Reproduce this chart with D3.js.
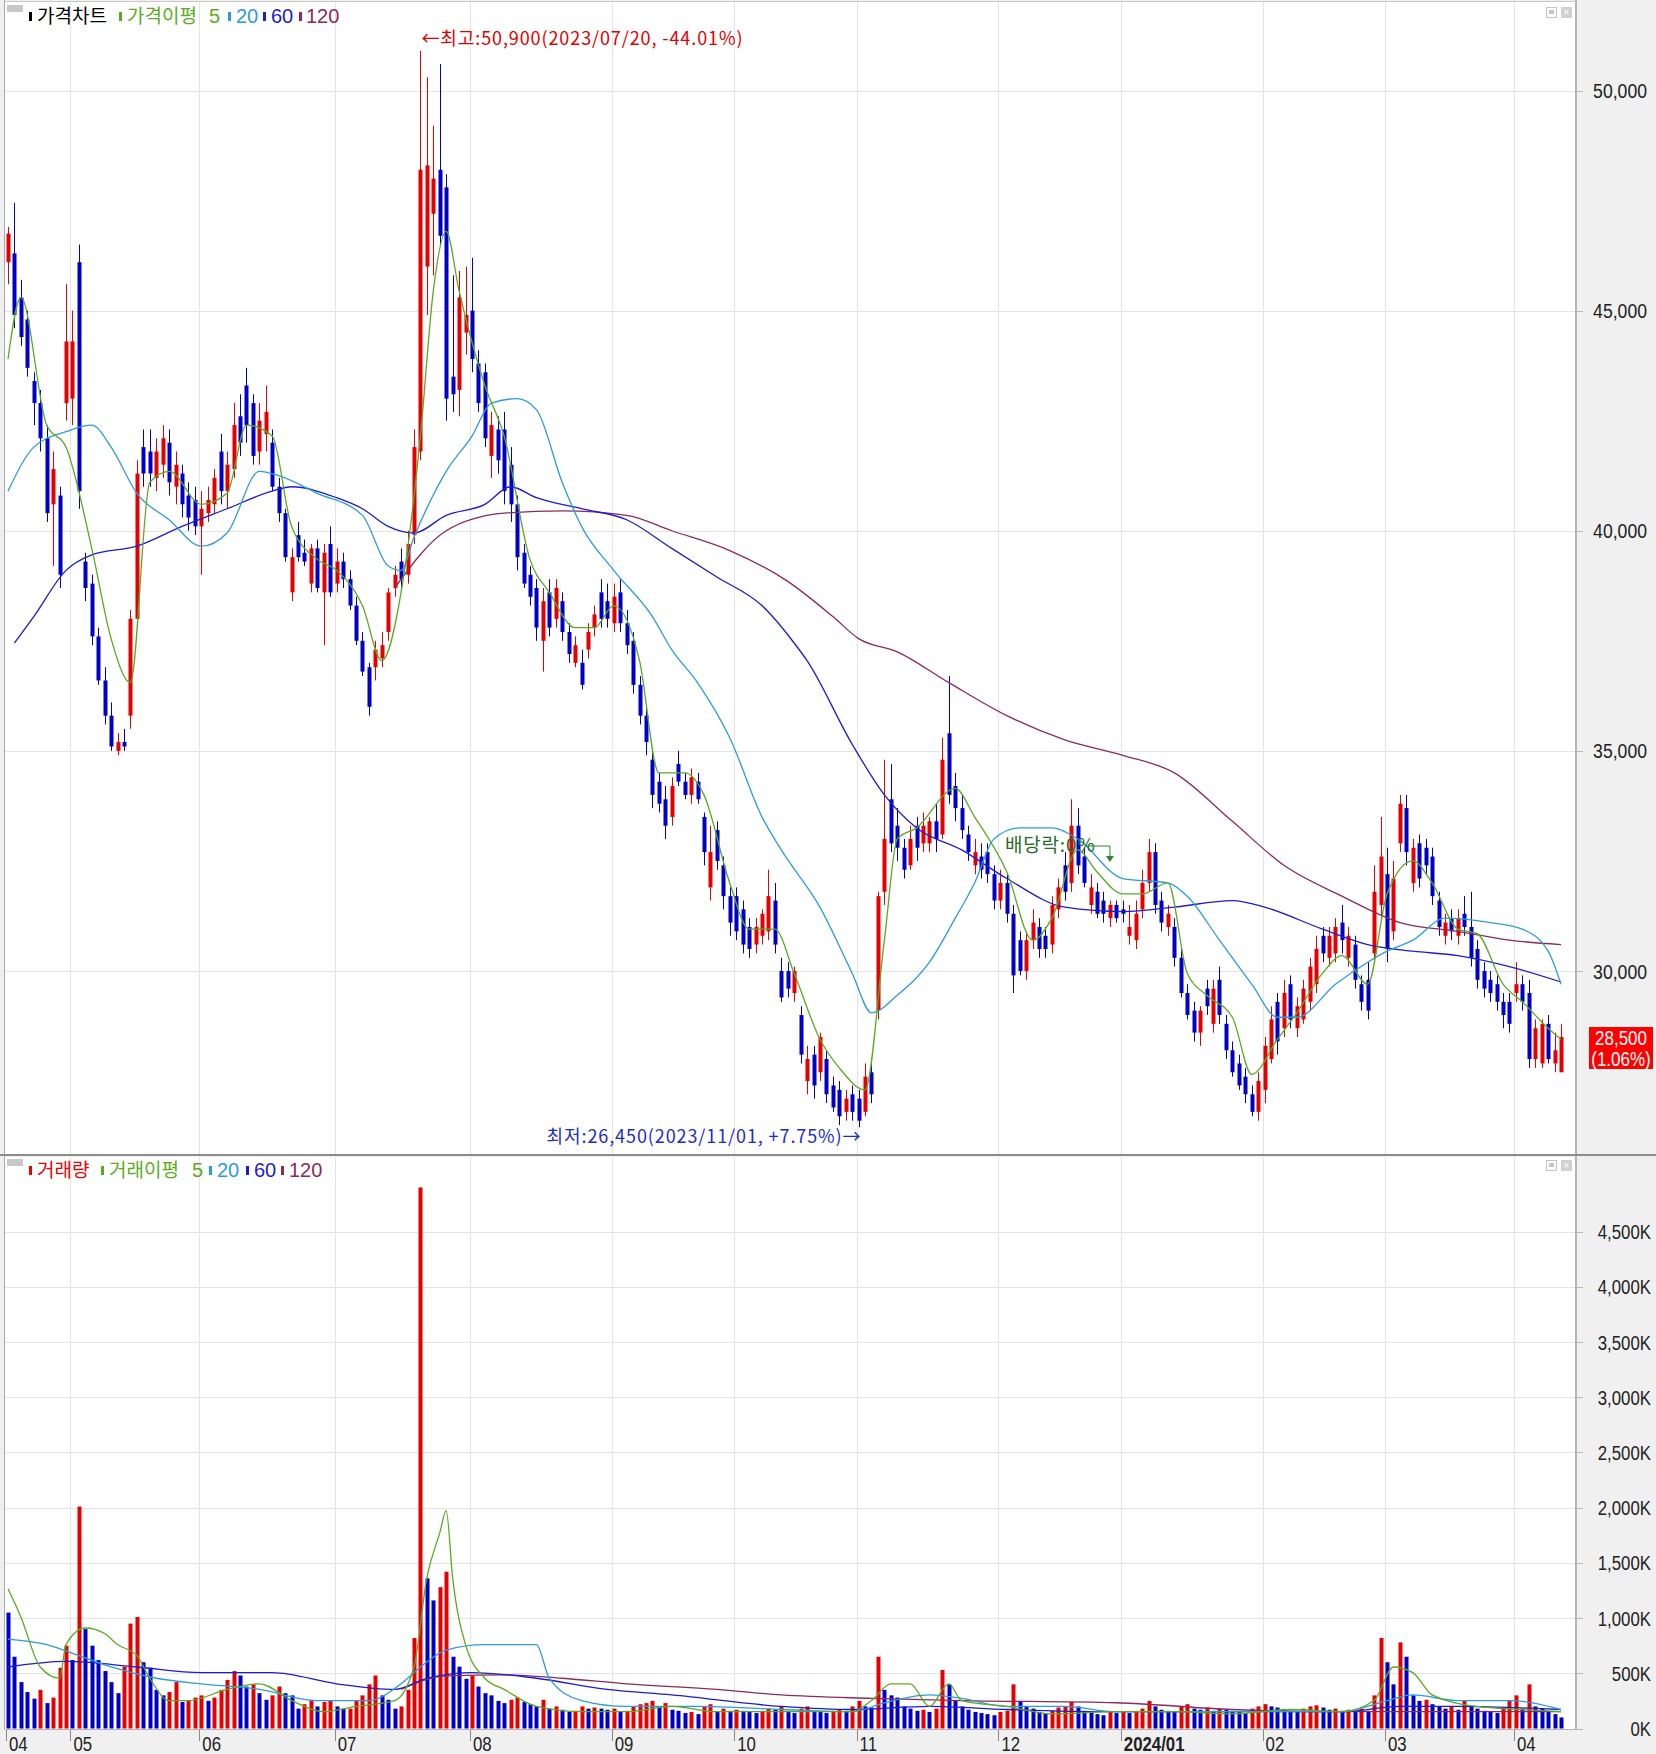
<!DOCTYPE html>
<html><head><meta charset="utf-8">
<script src="https://cdn.jsdelivr.net/npm/d3@7"></script>
<style>body{margin:0;background:#f0f0f0}svg{display:block}</style>
</head><body><svg id="c" width="1656" height="1754"></svg>
<script>
// ---------- DATA ----------
const monthLabels = ["04","05","06","07","08","09","10","11","12","2024/01","02","03","04"];
const monthStart  = [0,10,30,51,72,94,113,132,154,173,195,214,234];
const priceTicks  = [30000,35000,40000,45000,50000];
const volTicks    = [0,500,1000,1500,2000,2500,3000,3500,4000,4500];

// [open, high, low, close]
const apr23 = [[46100,46900,45600,46750],[46300,47450,44600,44900],[45300,45700,44200,44400],[44800,45000,43500,43700],[43400,43600,42400,42900],[42900,43200,41800,42100],[42100,42400,40200,40400],[40600,41800,39200,41400],[40800,41000,38700,39000],[42900,45600,42500,44300]];
const may23 = [[43000,45000,42400,44300],[46100,46500,40500,40900],[39300,39500,38400,38700],[38800,39000,37400,37600],[37600,37800,36500,36600],[36600,36900,35600,35800],[35800,36100,35000,35100],[35000,35400,34900,35200],[35200,35500,35000,35100],[35800,38200,35500,38000],[38000,41600,37800,41300],[41900,42300,41000,41300],[41800,42300,41000,41300],[41200,42100,40900,41800],[41500,42400,41200,42100],[42000,42300,40800,41100],[41000,41800,40600,41500],[41300,41500,40300,40600],[40800,41100,40000,40300],[40700,41000,39900,40100]];
const jun23 = [[40100,40900,39000,40500],[40400,41000,40200,40700],[40600,41400,40400,41200],[41800,42200,40600,40900],[40900,41800,40500,41500],[41400,42900,41200,42400],[42600,43100,41700,42000],[43300,43700,42000,42400],[42900,43100,41500,41700],[41800,42900,41500,42500],[42200,43300,41800,42700],[42000,42300,40900,41000],[41000,41200,40200,40400],[40400,40500,39300,39400],[38600,39600,38400,39400],[39900,40200,39300,39400],[39500,39800,39200,39300],[38800,39700,38600,39600],[39600,39800,38600,38700],[38600,39700,37400,39500],[39700,40100,38500,38600]];
const jul23 = [[38800,39600,38600,39300],[39300,39500,38700,38900],[38900,39100,38200,38300],[38300,38500,37400,37500],[37500,37700,36700,36800],[36900,37000,35800,36000],[36900,37500,36600,37300],[37100,37700,36900,37400],[37700,38700,37500,38600],[38700,39200,38500,39000],[39300,39600,38700,38900],[39000,40000,38800,39700],[39900,42300,39700,41900],[41800,50900,41600,48200],[46000,50300,44900,48300],[47200,49200,45800,48000],[48200,50600,46500,46700],[47800,48100,42500,43000],[43500,45800,42700,43100],[43200,45900,42600,45300],[44500,46000,44000,44900]];
const aug23 = [[45000,46200,43600,43900],[43800,44100,42700,42900],[43600,43800,41900,42100],[41700,42700,41200,42400],[42300,42600,41300,41600],[42300,42700,40600,40900],[41500,41900,40200,40600],[40600,40800,39100,39400],[39500,39700,38700,38800],[39000,39200,38300,38500],[38700,38900,37500,37800],[37500,38700,36800,38400],[38600,38900,37600,37800],[38000,38900,37800,38700],[38400,38600,37500,37700],[37700,37900,37000,37200],[37000,37600,36900,37400],[37000,37300,36400,36500],[37300,37900,37100,37700],[37800,38300,37600,38100],[38600,38900,37800,38000],[38400,38800,37800,38000]];
const sep23 = [[37900,38800,37700,38500],[38600,38900,37700,37900],[37900,38200,37200,37400],[37500,37700,36300,36500],[36500,36700,35600,35800],[35800,36000,34900,35200],[34800,35000,33700,34000],[34300,34500,33600,33800],[33900,34200,33000,33300],[33500,34400,33300,34200],[34700,35000,34200,34300],[34300,34500,33900,34000],[34000,34600,33800,34400],[34300,34500,33800,33900],[33500,33600,32400,32700],[31900,33300,31600,32700],[33200,33400,32300,32500],[32400,32600,31400,31700],[31700,31900,30800,31100]];
const oct23 = [[31700,31900,30700,30900],[31400,31600,30400,30600],[31000,31200,30300,30500],[30600,31200,30400,31000],[30800,31400,30600,31300],[30900,32300,30700,31700],[31600,32000,30400,30600],[30000,30300,29300,29400],[30000,30200,29400,29600],[29500,30100,29300,30000],[29000,29200,27900,28100],[27500,28300,27200,28000],[28100,28300,27100,27400],[27700,28600,27500,28500],[28000,28200,27000,27200],[27400,27600,26800,26900],[27300,27500,26500,26700],[26800,27300,26600,27100],[27200,27400,26600,26800]];
const nov23 = [[27100,27300,26450,26600],[26800,27900,26700,27600],[27700,27900,27000,27200],[29100,31800,28900,31700],[31800,34800,31500,33000],[33900,34700,32700,32900],[33300,33700,32500,32800],[32800,33000,32100,32300],[32400,33300,32300,33000],[33300,33500,32500,32800],[32900,33600,32700,33300],[32900,33500,32700,33400],[33400,33800,32700,33000],[33100,35300,33000,34800],[35400,36700,33800,34000],[34200,34500,33400,33700],[33700,34000,33000,33200],[33100,33300,32500,32700],[32400,33000,32200,32700],[32600,32900,32100,32300],[32700,32900,32000,32200],[32200,32400,31400,31600]];
const dec23 = [[31600,32300,31400,32000],[32000,32200,31100,31300],[31300,31500,29500,29900],[30700,30900,29900,30000],[30000,30900,29800,30700],[30700,31400,30500,31100],[31000,31200,30300,30500],[30800,31000,30300,30500],[30600,31700,30400,31500],[31400,32100,31200,31900],[32400,32700,31600,31800],[32000,33900,31800,33300],[33300,33700,32200,32400],[32600,32800,31900,32000],[31500,32200,31300,31900],[31800,32000,31200,31300],[31600,31800,31100,31300],[31200,31600,31000,31500],[31500,31600,31100,31200]];
const jan24 = [[31400,31600,31100,31300],[30800,31500,30600,31000],[30700,31600,30500,31300],[31400,32300,31200,32000],[32000,33000,31800,32700],[32700,32900,31300,31500],[31600,31800,30900,31100],[31000,31500,30800,31300],[31000,31200,30100,30300],[30300,30500,29400,29500],[29500,29700,28900,29000],[29100,29300,28400,28600],[28600,29200,28300,29100],[29600,29800,29000,29200],[28800,29800,28600,29600],[29800,30100,28800,29000],[28800,29000,28000,28200],[28200,28400,27600,27700],[27900,28100,27300,27400],[27600,27800,27000,27200],[27200,27400,26700,26800],[26800,27700,26600,27500]];
const feb24 = [[27300,28500,27000,28300],[28000,29200,27900,28900],[29300,29500,28100,28400],[28700,29800,28500,29500],[29700,29900,28700,28900],[28700,29400,28500,29200],[28900,29800,28800,29600],[29300,30300,29100,30100],[29700,30800,29500,30500],[30800,31000,30200,30400],[30300,31000,30100,30800],[30400,31200,30200,31000],[31100,31500,30400,30700],[30300,31000,30100,30800],[30600,30800,29600,29800],[29700,29900,29100,29300],[29800,30200,28900,29100],[30400,32400,30200,31800],[31500,33500,31200,32600]];
const mar24 = [[32200,32800,30200,30500],[30900,32500,30700,32100],[32900,34000,32700,33800],[33700,34000,32400,32700],[32000,33000,31800,32800],[32900,33100,31900,32100],[32800,33000,32200,32400],[32600,32800,31500,31700],[31600,31800,30800,31000],[30800,31300,30600,31100],[31200,31400,30700,30900],[30800,31400,30600,31200],[31300,31700,30800,31000],[31000,31800,30100,30300],[30500,30700,29600,29800],[30000,30200,29400,29600],[29800,30000,29300,29500],[29700,29900,29100,29300],[29300,29500,28700,29000],[29300,29500,28600,28800]];
const apr24 = [[29500,30200,29300,29700],[29700,29900,29100,29300],[29500,29800,27800,28000],[28000,28900,27800,28700],[27900,28900,27800,28800],[28800,29000,27900,28000],[27900,28600,27700,28200],[27700,28800,27700,28500]];

// volume, thousand shares
const volApr23 = [1050,650,420,330,270,350,230,280,550,750];
const volMay23 = [620,2010,900,750,620,520,420,320,560,950,1010,600,550,350,300,330,420,240,250,280];
const volJun23 = [300,250,280,350,440,520,480,380,400,320,260,300,380,320,300,180,220,260,200,240,250];
const volJul23 = [200,180,180,250,300,400,480,300,260,180,200,350,820,4900,1360,1160,1280,1420,650,560,450];
const volAug23 = [480,380,320,300,250,230,260,280,240,220,200,260,180,200,170,150,160,200,180,190,180,170];
const volSep23 = [180,150,160,200,220,230,250,200,230,170,160,140,150,130,200,220,150,180,160];
const volOct23 = [170,160,150,140,160,180,170,200,150,140,180,200,160,150,140,160,170,160,200];
const volNov23 = [250,200,190,650,350,300,280,200,180,160,170,150,180,530,400,250,200,170,150,140,130,120];
const volDec23 = [150,160,400,250,200,180,150,140,160,190,200,240,200,160,150,130,120,150,140];
const volJan24 = [150,140,160,180,250,200,170,160,150,200,220,180,170,190,160,180,170,160,150,140,180,200];
const volFeb24 = [220,200,190,170,160,150,180,200,210,190,170,180,160,170,150,180,160,300,820];
const volMar24 = [600,400,780,650,300,250,260,220,200,180,200,170,250,200,180,160,150,140,190,250];
const volApr24 = [300,180,400,200,180,150,130,100];

// moving averages: [day index, value]
const ma5 = [[0,43900],[2,45300],[6,42400],[9,41900],[13,39600],[16,37550],[19,36550],[22,41100],[25,41350],[30,40600],[34,40850],[37,42400],[41,42150],[44,40100],[48,39350],[51,39100],[55,38300],[58,37050],[61,38600],[64,42150],[66,45450],[68,46800],[70,45450],[74,43300],[77,42150],[81,39350],[84,38600],[88,37800],[91,37800],[94,38300],[98,37050],[101,34500],[105,34500],[108,34000],[112,32000],[115,30950],[119,30950],[122,29950],[126,28450],[129,27800],[133,27300],[136,30700],[138,33000],[141,33250],[147,34150],[150,33500],[155,32250],[159,30700],[162,31200],[166,32750],[169,32250],[173,31750],[176,31750],[180,32000],[183,29950],[186,29450],[190,28950],[193,27650],[197,28450],[200,29050],[204,29950],[207,30350],[211,29700],[214,31750],[218,32500],[221,32000],[225,30950],[228,30850],[232,29700],[235,29300],[239,28700],[241,28450]];
const ma20 = [[0,40900],[4,41900],[9,42250],[13,42400],[16,41900],[20,40850],[25,40250],[30,39650],[34,39950],[39,41350],[42,41250],[48,40850],[55,40350],[59,39200],[61,39100],[63,39850],[68,41350],[72,42150],[75,42900],[79,43000],[82,42750],[86,41100],[89,40100],[94,39100],[100,38050],[103,37300],[107,36550],[112,35300],[117,33500],[120,32750],[126,31450],[131,29950],[134,29050],[138,29450],[143,30200],[147,31200],[150,32000],[153,33000],[157,33250],[162,33250],[166,33000],[173,32100],[180,32000],[183,31700],[188,30700],[193,29700],[197,28950],[200,28950],[206,29700],[211,30200],[214,30450],[218,30700],[223,31200],[230,31100],[235,30950],[239,30450],[241,29700]];
const ma60 = [[1,37450],[4,38050],[9,39100],[13,39450],[20,39650],[27,40100],[34,40500],[41,40900],[44,41000],[51,40750],[55,40500],[59,40100],[63,39950],[68,40350],[74,40600],[78,41000],[82,40750],[89,40500],[96,40250],[103,39600],[110,38950],[117,38300],[122,37450],[124,37050],[131,35150],[136,34000],[141,33250],[148,32750],[155,32100],[164,31450],[173,31350],[181,31450],[190,31600],[195,31450],[204,30950],[211,30600],[218,30450],[225,30350],[233,30100],[241,29750]];
const ma120 = [[60,38700],[68,40000],[77,40400],[86,40450],[96,40350],[103,40000],[112,39550],[121,38850],[128,38050],[132,37550],[138,37250],[146,36550],[155,35800],[164,35250],[173,34900],[181,34500],[190,33400],[198,32400],[207,31700],[216,31100],[225,30900],[233,30700],[241,30600]];

const vma5 = [[0,1265],[2,1010],[5,557],[8,455],[9,760],[12,910],[15,860],[17,760],[20,660],[22,455],[25,253],[28,253],[34,354],[39,405],[44,253],[49,152],[54,200],[60,253],[63,557],[65,1366],[67,1771],[68,1973],[69,1366],[71,760],[74,455],[77,354],[82,200],[89,152],[96,152],[103,200],[110,152],[117,152],[124,152],[131,152],[134,253],[137,405],[140,405],[143,200],[146,405],[148,253],[155,200],[162,132],[172,152],[181,152],[190,132],[199,172],[207,152],[212,253],[215,557],[218,506],[221,304],[228,200],[235,172],[241,152]];
const vma20 = [[0,810],[6,760],[11,660],[16,557],[23,455],[30,405],[39,354],[48,253],[56,253],[61,405],[64,557],[68,710],[74,760],[82,760],[84,455],[89,253],[96,200],[107,200],[120,172],[131,152],[136,233],[143,304],[148,273],[155,200],[164,200],[172,152],[190,152],[207,152],[214,253],[218,304],[225,253],[233,253],[241,172]];
const vma60 = [[0,557],[9,607],[20,557],[30,506],[41,506],[51,405],[60,354],[65,455],[72,506],[82,455],[93,354],[103,304],[120,200],[131,172],[143,200],[155,172],[172,152],[190,152],[207,152],[216,200],[225,200],[241,172]];
const vma120 = [[61,354],[68,476],[77,486],[86,455],[96,405],[110,354],[120,304],[134,273],[148,253],[172,233],[190,172],[207,152],[241,152]];

// ---------- CHART ----------
const candles = [].concat(apr23,may23,jun23,jul23,aug23,sep23,oct23,nov23,dec23,jan24,feb24,mar24,apr24);
const volume  = [].concat(volApr23,volMay23,volJun23,volJul23,volAug23,volSep23,volOct23,volNov23,volDec23,volJan24,volFeb24,volMar24,volApr24);
const N = candles.length;

const svg = d3.select("#c");
const UP="#e60000", DN="#0000c8";
const C5="#5aab22", C20="#2d9be0", C60="#1c1cd0", C120="#8c2a58";
const numFont = "'Liberation Sans',Arial,sans-serif";
const krFont = "'Noto Sans CJK KR','Noto Sans',sans-serif";

const L=4.5, R=1576;
const P={top:2,bottom:1155}, V={top:1157,bottom:1729};

const x = d3.scaleLinear().domain([0,N-1]).range([8, 8+6.444*(N-1)]);
const yP = d3.scaleLinear().domain([30000,50000]).range([971,90.5]);
const yV = d3.scaleLinear().domain([0,4500]).range([1728.5,1231.6]);

// narrow numeric text (condensed horizontally about its anchor)
function ntext(g, tx, ty, str, anchor, k, size, fill, weight){
  return g.append("text").attr("transform",`translate(${tx},${ty}) scale(${k},1)`)
    .attr("text-anchor",anchor).attr("font-family",numFont).attr("font-size",size)
    .attr("font-weight",weight||"normal").attr("fill",fill).text(str);
}

// backgrounds
svg.append("rect").attr("x",0).attr("y",0).attr("width",1656).attr("height",1754).attr("fill","#f0f0f0");
svg.append("rect").attr("x",L).attr("y",P.top).attr("width",R-L).attr("height",P.bottom-P.top).attr("fill","#fff");
svg.append("rect").attr("x",L).attr("y",V.top).attr("width",R-L).attr("height",V.bottom-V.top).attr("fill","#fff");

const defs=svg.append("defs");
defs.append("clipPath").attr("id","cp").append("rect").attr("x",L).attr("y",P.top).attr("width",R-L).attr("height",P.bottom-P.top);
defs.append("clipPath").attr("id","cv").append("rect").attr("x",L).attr("y",V.top).attr("width",R-L).attr("height",V.bottom-V.top);

// grid
const gridX = monthStart.map(i=>x(i)-2);
[P,V].forEach(p=>{
  svg.append("g").selectAll("line").data(gridX.slice(1)).join("line")
    .attr("x1",d=>Math.round(d)+0.5).attr("x2",d=>Math.round(d)+0.5)
    .attr("y1",p.top).attr("y2",p.bottom).attr("stroke","#e4e4e4");
});
svg.append("g").selectAll("line").data(priceTicks).join("line")
  .attr("x1",L).attr("x2",R).attr("y1",d=>Math.round(yP(d))+0.5).attr("y2",d=>Math.round(yP(d))+0.5)
  .attr("stroke","#e4e4e4");
svg.append("g").selectAll("line").data(priceTicks).join("line")
  .attr("x1",R).attr("x2",1583).attr("y1",d=>Math.round(yP(d))+0.5).attr("y2",d=>Math.round(yP(d))+0.5)
  .attr("stroke","#b8b8b8");
svg.append("g").selectAll("line").data(volTicks.slice(1)).join("line")
  .attr("x1",L).attr("x2",R).attr("y1",d=>Math.round(yV(d))+0.5).attr("y2",d=>Math.round(yV(d))+0.5)
  .attr("stroke","#e4e4e4");
svg.append("g").selectAll("line").data(volTicks).join("line")
  .attr("x1",R).attr("x2",1583).attr("y1",d=>Math.round(yV(d))+0.5).attr("y2",d=>Math.round(yV(d))+0.5)
  .attr("stroke","#b8b8b8");

// axis labels
const gl = svg.append("g");
priceTicks.forEach(d=>ntext(gl,1647,yP(d)+7.5,d3.format(",")(d),"end",0.84,21,"#222"));
volTicks.forEach(d=>ntext(gl,1651,yV(d)+7.5,d3.format(",")(d)+"K","end",0.8,21,"#222"));

// candles
const gc = svg.append("g").attr("clip-path","url(#cp)");
const cg = gc.selectAll("g").data(candles).join("g");
cg.append("line")
  .attr("x1",(d,i)=>Math.round(x(i))+0.5).attr("x2",(d,i)=>Math.round(x(i))+0.5)
  .attr("y1",d=>yP(d[1])).attr("y2",d=>yP(d[2]))
  .attr("stroke",d=>d[3]>=d[0]?UP:DN).attr("stroke-width",1);
cg.append("rect")
  .attr("x",(d,i)=>Math.round(x(i))-1.5).attr("width",4)
  .attr("y",d=>yP(Math.max(d[0],d[3])))
  .attr("height",d=>Math.max(1,Math.abs(yP(d[0])-yP(d[3]))))
  .attr("fill",d=>d[3]>=d[0]?UP:DN);

// price MAs
const lineP = d3.line().x(d=>x(d[0])).y(d=>yP(d[1])).curve(d3.curveMonotoneX);
[[ma120,C120],[ma60,C60],[ma20,C20],[ma5,C5]].forEach(([arr,c])=>{
  gc.append("path").attr("d",lineP(arr)).attr("fill","none").attr("stroke",c).attr("stroke-width",1.3);
});

// volume bars: red when volume rose from the previous day, blue when it fell
const gv = svg.append("g").attr("clip-path","url(#cv)");
gv.selectAll("rect").data(volume).join("rect")
  .attr("x",(d,i)=>Math.round(x(i))-1.5).attr("width",4)
  .attr("y",d=>yV(d)).attr("height",d=>yV(0)-yV(d))
  .attr("fill",(d,i)=>i>0&&d>=volume[i-1]?UP:DN);
const lineV = d3.line().x(d=>x(d[0])).y(d=>yV(d[1])).curve(d3.curveMonotoneX);
[[vma120,C120],[vma60,C60],[vma20,C20],[vma5,C5]].forEach(([arr,c])=>{
  gv.append("path").attr("d",lineV(arr)).attr("fill","none").attr("stroke",c).attr("stroke-width",1.3);
});

// borders
svg.append("line").attr("x1",L).attr("x2",L).attr("y1",0).attr("y2",V.bottom).attr("stroke","#a8a8a8");
svg.append("line").attr("x1",R).attr("x2",R).attr("y1",0).attr("y2",V.bottom+1).attr("stroke","#b4b4b4").attr("stroke-width",2);
svg.append("line").attr("x1",0).attr("x2",1656).attr("y1",1155).attr("y2",1155).attr("stroke","#8c8c8c").attr("stroke-width",2);
svg.append("line").attr("x1",L).attr("x2",1583).attr("y1",V.bottom+0.5).attr("y2",V.bottom+0.5).attr("stroke","#b4b4b4");
svg.append("line").attr("x1",L).attr("x2",R).attr("y1",1.5).attr("y2",1.5).attr("stroke","#c8c8c8");

// x axis
svg.append("g").selectAll("line").data(gridX).join("line")
  .attr("x1",d=>Math.round(d)+0.5).attr("x2",d=>Math.round(d)+0.5).attr("y1",1730).attr("y2",1741).attr("stroke","#888");
const gx = svg.append("g");
monthLabels.forEach((d,i)=>ntext(gx,gridX[i]+3,1751,d,"start",0.8,21,"#222",d.length>2?"bold":"normal"));

// legends
function legend(y, items){
  svg.append("rect").attr("x",7).attr("y",y-11).attr("width",16).attr("height",7).attr("fill","#c8c8c8");
  items.forEach(it=>{
    if(it.bx>0) svg.append("rect").attr("x",it.bx).attr("y",y-4).attr("width",3).attr("height",9).attr("fill",it.c);
    svg.append("text").attr("x",it.tx).attr("y",y+7).attr("fill",it.c)
      .attr("font-family",it.kr?krFont:numFont).attr("font-size",it.kr?19:20).text(it.t);
  });
}
legend(16,[{bx:29,tx:37,c:"#000",t:"가격차트",kr:1},{bx:119,tx:127,c:C5,t:"가격이평",kr:1},{bx:-1,tx:209,c:C5,t:"5"},{bx:228,tx:236,c:C20,t:"20"},{bx:263,tx:271,c:C60,t:"60"},{bx:299,tx:306,c:C120,t:"120"}]);
legend(1170,[{bx:29,tx:37,c:"#e00",t:"거래량",kr:1},{bx:101,tx:109,c:C5,t:"거래이평",kr:1},{bx:-1,tx:192,c:C5,t:"5"},{bx:209,tx:217,c:C20,t:"20"},{bx:246,tx:254,c:C60,t:"60"},{bx:281,tx:289,c:C120,t:"120"}]);

// panel icons
[7,1160].forEach(yy=>{
  svg.append("rect").attr("x",1546.5).attr("y",yy+0.5).attr("width",10).attr("height",10).attr("fill","none").attr("stroke","#c4c4c4");
  svg.append("rect").attr("x",1549).attr("y",yy+3).attr("width",5).attr("height",4).attr("fill","#c4c4c4");
  svg.append("rect").attr("x",1561).attr("y",yy).attr("width",11).attr("height",11).attr("fill","#d0d0d0");
  svg.append("text").attr("x",1566.5).attr("y",yy+9).attr("text-anchor","middle").attr("font-size",10).attr("fill","#fff").attr("font-family",numFont).text("×");
});

// annotations
const hiIdx = d3.maxIndex(candles,d=>d[1]);
const loIdx = d3.minIndex(candles,d=>d[2]);
svg.append("text").attr("x",x(hiIdx)+1).attr("y",45).attr("fill","#e00000")
  .attr("font-family",krFont).attr("font-size",18).attr("letter-spacing",0.9)
  .text("←최고:50,900(2023/07/20, -44.01%)");
svg.append("text").attr("x",x(loIdx)-312).attr("y",1143).attr("fill","#1c2cc8")
  .attr("font-family",krFont).attr("font-size",18).attr("letter-spacing",0.9)
  .text("최저:26,450(2023/11/01, +7.75%)→");
// ex-dividend
const exIdx = 171;
svg.append("text").attr("x",1005).attr("y",852).attr("fill","#2a6a2a")
  .attr("font-family",krFont).attr("font-size",19).attr("letter-spacing",0.8).text("배당락:0%");
svg.append("path").attr("d",`M1085,846H${x(exIdx)}V858`).attr("fill","none").attr("stroke","#2a8a2a");
svg.append("path").attr("d",`M${x(exIdx)-4},856L${x(exIdx)+4},856L${x(exIdx)},862Z`).attr("fill","#2a8a2a");

// current price box
const last = candles[N-1][3];
svg.append("rect").attr("x",1589).attr("y",1027).attr("width",64).attr("height",42).attr("fill","#ff0000");
ntext(svg,1621,1045,d3.format(",")(last),"middle",0.85,20,"#fff");
ntext(svg,1621,1066,"(1.06%)","middle",0.85,20,"#fff");
</script></body></html>
